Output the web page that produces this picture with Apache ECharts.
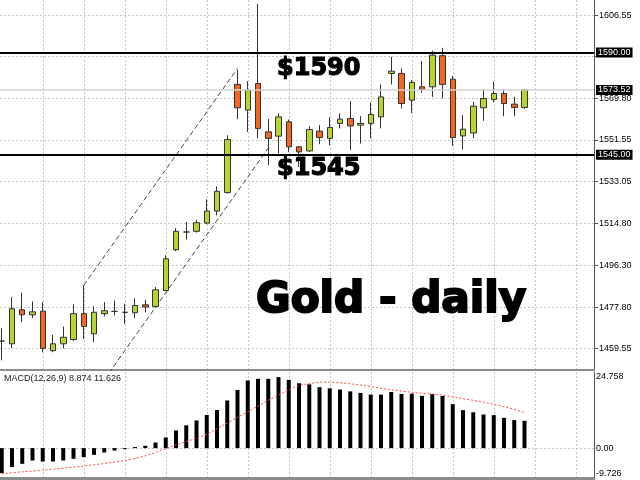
<!DOCTYPE html>
<html><head><meta charset="utf-8">
<script src="https://cdn.jsdelivr.net/npm/echarts@6/dist/echarts.min.js"></script>
<style>html,body{margin:0;padding:0;background:#fff}#c{width:640px;height:480px}</style>
</head><body><div id="c"></div>
<script>
// bar index (one per trading day)
const dayIndex = [0,1,2,3,4,5,6,7,8,9,10,11,12,13,14,15,16,17,18,19,20,21,22,23,24,25,26,27,28,29,30,31,32,33,34,35,36,37,38,39,40,41,42,43,44,45,46,47,48,49,50,51];
// [open, close, low, high]
const ohlc = [
  [1462.8,1462.8,1454.3,1468.4],
  [1461.6,1477.05,1459.8,1482.2],
  [1476.6,1474.4,1471.1,1484.1],
  [1474.4,1475.7,1472.9,1480.3],
  [1476.0,1459.6,1457.9,1480.0],
  [1458.6,1461.6,1457.9,1465.6],
  [1461.6,1464.5,1459.6,1469.2],
  [1463.5,1474.9,1462.8,1479.0],
  [1474.9,1469.2,1463.8,1487.4],
  [1466.0,1475.5,1462.3,1478.1],
  [1474.9,1476.2,1473.7,1480.0],
  [1475.9,1475.9,1474.1,1480.7],
  [1475.5,1475.5,1470.4,1479.3],
  [1475.3,1478.5,1473.0,1481.7],
  [1478.8,1477.8,1475.5,1481.0],
  [1478.1,1485.4,1477.8,1486.6],
  [1485.1,1499.1,1484.8,1500.6],
  [1503.1,1511.2,1502.5,1512.6],
  [1510.9,1510.9,1507.5,1515.3],
  [1511.2,1515.0,1510.6,1516.3],
  [1514.85,1520.15,1514.3,1525.3],
  [1520.1,1528.85,1518.2,1531.05],
  [1528.25,1551.65,1527.8,1553.55],
  [1575.95,1565.65,1560.65,1582.25],
  [1564.65,1573.45,1555.05,1577.4],
  [1576.35,1556.55,1552.15,1611.4],
  [1555.05,1552.15,1540.35,1560.65],
  [1553.15,1561.65,1545.45,1563.15],
  [1559.45,1548.45,1546.2,1560.5],
  [1548.45,1546.2,1539.6,1548.85],
  [1546.65,1556.05,1546.2,1557.55],
  [1555.35,1552.55,1549.6,1558.0],
  [1552.15,1556.95,1549.15,1561.4],
  [1558.75,1560.65,1556.55,1563.15],
  [1560.95,1557.65,1546.95,1568.55],
  [1558.0,1558.75,1549.9,1561.95],
  [1558.75,1562.7,1552.15,1568.0],
  [1561.65,1570.45,1556.55,1575.95],
  [1580.8,1581.8,1575.95,1588.15],
  [1580.8,1567.55,1565.35,1583.0],
  [1569.05,1576.85,1563.4,1577.85],
  [1574.9,1573.75,1572.25,1586.25],
  [1574.9,1588.85,1570.45,1590.8],
  [1588.6,1575.95,1569.8,1592.1],
  [1578.25,1552.55,1548.85,1579.6],
  [1553.25,1556.2,1547.25,1562.4],
  [1554.55,1566.35,1552.4,1568.25],
  [1565.65,1569.75,1559.9,1573.9],
  [1569.35,1571.95,1568.0,1577.1],
  [1571.95,1567.55,1561.95,1573.9],
  [1567.25,1565.8,1561.95,1570.45],
  [1565.8,1573.52,1565.2,1574.0]
];
const macdMain = [-8.13,-6.18,-5.11,-4.03,-4.36,-4.36,-4.03,-3.48,-2.93,-2.18,-1.43,-0.78,-0.33,0.33,0.75,1.82,3.45,5.73,7.4,9.0,10.8,12.4,15.5,18.9,22.0,22.54,22.54,23.1,22.2,21.1,20.75,19.84,19.45,19.05,18.45,17.95,17.4,17.4,18.26,17.62,17.71,17.0,17.62,17.0,14.31,12.36,11.65,10.93,10.73,9.86,9.11,8.874];
const macdSignal = [-8.36,-8.04,-7.71,-7.48,-7.16,-6.83,-6.51,-6.18,-5.86,-5.43,-5.01,-4.55,-4.03,-3.38,-2.5,-1.43,-0.15,1.07,2.11,3.19,4.49,6.34,8.17,9.99,11.81,13.66,15.55,17.27,18.87,20.43,20.98,21.47,21.44,21.24,20.92,20.49,20.01,19.45,18.97,18.54,18.15,17.83,17.57,17.27,16.69,16.04,15.55,14.9,14.25,13.5,12.62,11.626];
const priceTicks = [1459.55,1477.80,1496.30,1514.80,1533.05,1551.55,1569.80,1588.30,1606.55];
const priceLabels = [1459.55,1477.80,1496.30,1514.80,1533.05,1551.55,1569.80,1606.55];
const macdLabels = [-9.726,0,24.758];
const macdGrid = [0];
const dayGrid = [4,8,12,16,20,24,28,32,36,40,44,48,52,56];
const levels = [1590, 1545];
const bidPrice = 1573.52;
const channelUpper = [[8,1487.4],[23,1583.0]];
const channelLower = [[10,1445.8],[26,1547.9]];
const levelTexts = ['$1590', '$1545'];
const chartTitle = 'Gold - daily';
const macdTitle = 'MACD(12,26,9) 8.874 11.626';

const FONT = 'Liberation Sans';
const gridLine = {show:true, lineStyle:{color:'#c4c4c4', width:1, type:[2,2]}};
const chart = echarts.init(document.getElementById('c'), null, {renderer:'canvas'});

const boxLabel = {show:true, position:'end', distance:2, backgroundColor:'#000', color:'#fff',
  padding:[1,2,0,2], fontSize:9, fontFamily:FONT, formatter: p => Number(p.value).toFixed(2)};

chart.setOption({
  animation:false,
  backgroundColor:'#fff',
  textStyle:{fontFamily:FONT},
  grid:[
    {left:0, top:0, width:594, height:370, outerBoundsMode:'none', containLabel:false},
    {left:0, top:372, width:594, height:106, outerBoundsMode:'none', containLabel:false}
  ],
  xAxis:[
    {type:'value', gridIndex:0, min:-0.1707, max:57.78, position:'bottom',
     axisLine:{show:true, onZero:false, lineStyle:{color:'#8c8c8c', width:2}},
     axisTick:{show:false, customValues:dayGrid}, axisLabel:{show:false}, splitLine:gridLine},
    {type:'value', gridIndex:1, min:-0.1707, max:57.78, position:'bottom',
     axisLine:{show:true, onZero:false, lineStyle:{color:'#8c8c8c', width:3}},
     axisTick:{show:false, customValues:dayGrid}, axisLabel:{show:false}, splitLine:gridLine}
  ],
  yAxis:[
    {type:'value', gridIndex:0, position:'right', min:1450.06, max:1613.17, scale:true,
     axisLine:{show:true, onZero:false, lineStyle:{color:'#555', width:1}},
     axisTick:{show:true, inside:false, length:4, lineStyle:{color:'#555'}, customValues:priceTicks},
     axisLabel:{show:true, customValues:priceLabels, margin:5, fontSize:9, fontFamily:FONT, color:'#000',
       formatter: v => Number(v).toFixed(2)},
     splitLine:gridLine},
    {type:'value', gridIndex:1, position:'right', min:-9.726, max:24.758,
     axisLine:{show:true, onZero:false, lineStyle:{color:'#555', width:1}},
     axisTick:{show:false, customValues:macdGrid},
     axisLabel:{show:true, customValues:macdLabels, margin:2, fontSize:9, fontFamily:FONT, color:'#000',
       verticalAlignMaxLabel:'top', verticalAlignMinLabel:'bottom',
       formatter: v => (v === 0 ? '0.00' : String(v))},
     splitLine:gridLine}
  ],
  series:[
    {type:'line', xAxisIndex:0, yAxisIndex:0, data:channelUpper, symbol:'none', silent:true,
     lineStyle:{color:'#444', width:1, type:[5,3]}, z:1},
    {type:'line', xAxisIndex:0, yAxisIndex:0, data:channelLower, symbol:'none', silent:true,
     lineStyle:{color:'#444', width:1, type:[5,3]}, z:1},
    {type:'candlestick', xAxisIndex:0, yAxisIndex:0, barWidth:6,
     data: dayIndex.map((d,k)=>[d].concat(ohlc[k])),
     encode:{x:0, y:[1,2,3,4]},
     itemStyle:{color:'#b5d533', color0:'#f26522', borderColor:'#333', borderColor0:'#333', borderWidth:1},
     z:3,
     markLine:{symbol:['none','none'], silent:true, animation:false, precision:2,
       data:[
         {yAxis:bidPrice, lineStyle:{color:'#d2d2d2', width:1.5, type:'solid'}, label:boxLabel},
         {yAxis:levels[0], lineStyle:{color:'#000', width:2, type:'solid'}, label:boxLabel},
         {yAxis:levels[1], lineStyle:{color:'#000', width:2, type:'solid'}, label:boxLabel}
       ]}
    },
    {type:'bar', xAxisIndex:1, yAxisIndex:1, barWidth:4,
     data: dayIndex.map((d,k)=>[d, macdMain[k]]),
     itemStyle:{color:'#000'}, z:2},
    {type:'line', xAxisIndex:1, yAxisIndex:1, symbol:'none', silent:true,
     data: dayIndex.map((d,k)=>[d, macdSignal[k]]),
     lineStyle:{color:'#ff4a4a', width:1, type:[2,2]}, z:3}
  ],
  graphic:[
    {type:'text', z:10, style:{text:levelTexts[0], x:277, y:68.5, align:'left', verticalAlign:'middle',
      font:'bold 24px "DejaVu Sans"', fill:'#000', stroke:'#000', lineWidth:1.2}},
    {type:'text', z:10, style:{text:levelTexts[1], x:277, y:168.5, align:'left', verticalAlign:'middle',
      font:'bold 24px "DejaVu Sans"', fill:'#000', stroke:'#000', lineWidth:1.2}},
    {type:'text', z:10, style:{text:chartTitle, x:256, y:301, align:'left', verticalAlign:'middle',
      font:'bold 42.2px "DejaVu Sans"', fill:'#000', stroke:'#000', lineWidth:2}},
    {type:'text', z:10, style:{text:macdTitle, x:4, y:379, align:'left', verticalAlign:'middle',
      font:'9px "Liberation Sans"', fill:'#1a1a1a'}}
  ]
});
</script>
</body></html>
